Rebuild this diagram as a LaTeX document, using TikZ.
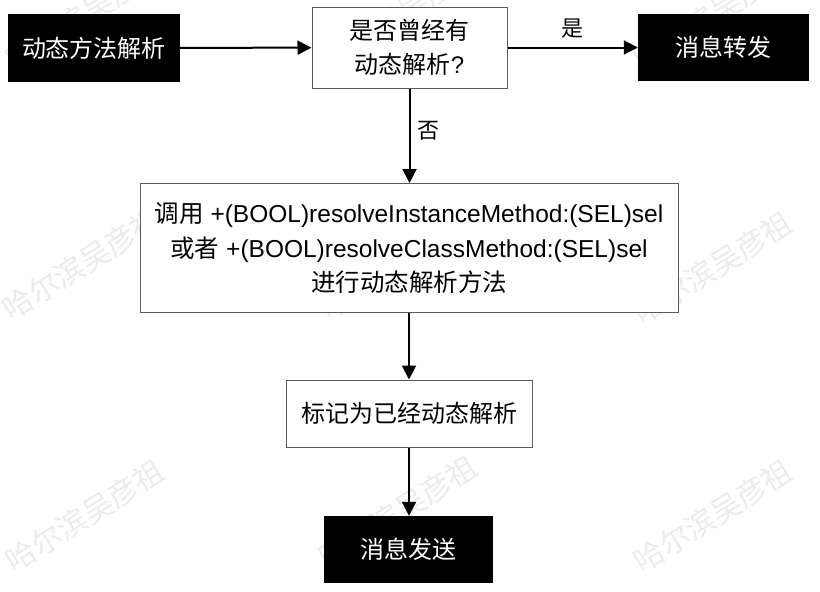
\documentclass[tikz,border=0pt]{standalone}
\usepackage{fontspec}
\setmainfont{Liberation Sans}
\newfontfamily\cjk{Noto Sans CJK SC}
\usetikzlibrary{arrows.meta}
\begin{document}
\begin{tikzpicture}[x=1pt,y=-1pt,
  blk/.style={fill=black, text=white, font=\cjk\fontsize{24}{34}\selectfont, inner sep=0pt},
  wht/.style={draw=black!65, line width=1pt, fill=white, text=black, font=\cjk\fontsize{24}{34}\selectfont, inner sep=0pt, align=center},
  arr/.style={line width=2pt, -{Triangle[length=14pt,width=14pt]}},
  lbl/.style={font=\cjk\fontsize{22}{26}\selectfont, inner sep=0pt},
  wm/.style={text=black!8, rotate=32, font=\cjk\fontsize{30}{30}\selectfont, inner sep=0pt}
]
\useasboundingbox (0,0) rectangle (820,592);
% watermarks
\foreach \wx/\wy [count=\i] in {85/14,400/14,713/14,82/264,400/264,713/268,85/516,398/512,713/516}
  \node[wm] (wm\i) at (\wx,\wy) {哈尔滨吴彦祖};
% boxes
\node[blk, minimum width=172pt, minimum height=68pt] (A) at (94,48) {动态方法解析};
\node[wht, minimum width=195pt, minimum height=81pt] (B) at (409.5,47.5) {是否曾经有\\动态解析{\rmfamily ?}};
\node[blk, minimum width=171pt, minimum height=67pt] (C) at (723.5,47.5) {消息转发};
\node[wht, minimum width=538pt, minimum height=129pt, font=\fontsize{24.5}{34.5}\selectfont] (D) at (409,248)
  {{\cjk 调用} +(BOOL)resolveInstanceMethod:(SEL)sel\\{\cjk 或者} +(BOOL)resolveClassMethod:(SEL)sel\\{\cjk 进行动态解析方法}};
\node[wht, minimum width=246pt, minimum height=67pt] (E) at (409,413.5) {标记为已经动态解析};
\node[blk, minimum width=169pt, minimum height=67pt] (F) at (408.5,549.5) {消息发送};
% labels
\node[lbl] (yes) at (572,29) {是};
\node[lbl] (no) at (428,131) {否};
% connectors
\draw[arr] (A) -- (B);
\draw[arr] (B) -- (C);
\draw[arr] (B.south) -- (B.south |- D.north);
\draw[arr] (D.south) -- (D.south |- E.north);
\draw[arr] (E.south) -- (E.south |- F.north);
\end{tikzpicture}
\end{document}
